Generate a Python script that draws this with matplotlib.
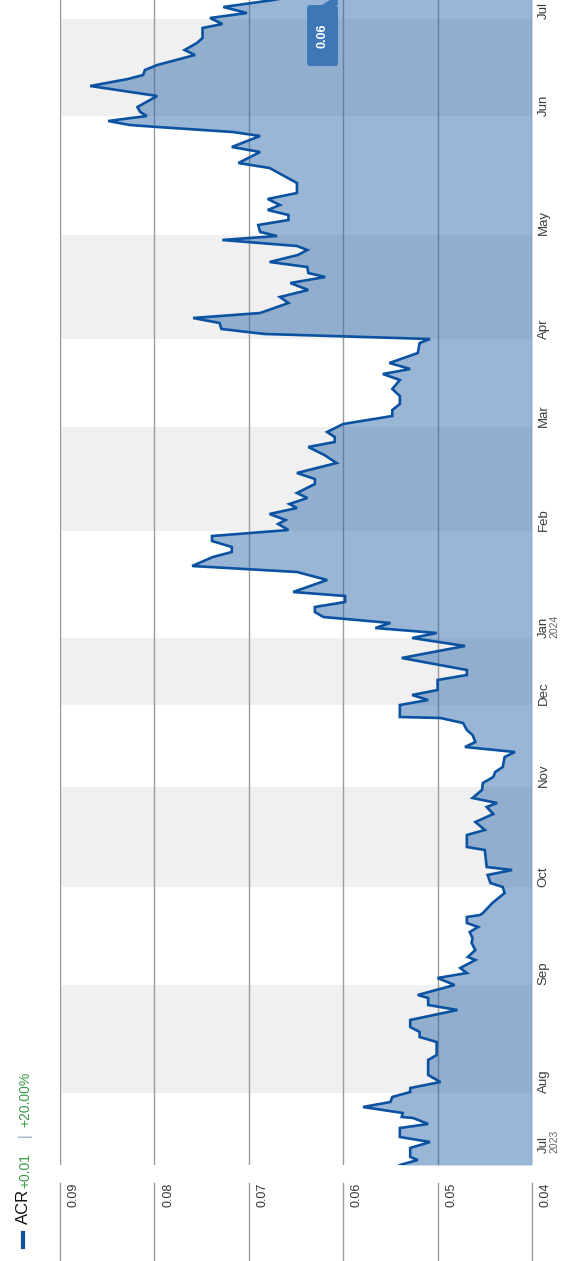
import matplotlib
matplotlib.use("Agg")
import matplotlib.pyplot as plt
from matplotlib.patches import FancyBboxPatch, Polygon
from matplotlib.lines import Line2D

plt.rcParams['font.family'] = ['Liberation Sans Narrow', 'Liberation Sans', 'DejaVu Sans']

# session index (trading-day position) and ACR price in AUD
session = [0.0, 1.0, 1.6, 3.4, 4.6, 5.6, 7.4, 8.2, 9.4, 9.6, 10.4, 11.6, 12.6, 13.6, 14.6,
           15.4, 16.6, 18.0, 21.0, 22.0, 24.6, 25.6, 26.6, 27.6, 29.0, 31.0, 32.0, 33.4, 34.0,
           36.0, 37.4, 38.4, 39.4, 41.0, 41.6, 43.0, 44.4, 45.4, 46.6, 47.6, 48.4, 49.6, 50.0,
           50.4, 52.4, 54.4, 55.6, 56.4, 58.0, 59.0, 59.6, 63.0, 63.6, 66.0, 67.0, 68.6, 70.2,
           71.6, 72.4, 73.4, 75.0, 76.4, 77.6, 78.6, 79.6, 81.6, 82.6, 83.6, 84.6, 86.0, 87.0,
           88.4, 89.4, 89.6, 92.0, 93.0, 94.0, 95.0, 97.0, 98.0, 99.0, 101.4, 103.8, 105.4,
           106.4, 107.4, 108.4, 109.6, 110.6, 111.6, 112.6, 113.8, 114.6, 117.0, 118.6, 119.8,
           121.6, 122.6, 123.6, 124.8, 125.8, 127.0, 128.2, 129.0, 130.2, 131.4, 132.2, 133.4,
           134.4, 136.2, 137.2, 138.4, 140.4, 142.0, 143.6, 144.6, 145.6, 146.6, 148.2, 149.8,
           151.0, 152.2, 153.8, 155.2, 157.0, 158.2, 159.2, 160.4, 162.4, 164.4, 165.2, 166.2,
           167.2, 168.4, 169.4, 170.4, 172.4, 173.6, 175.0, 176.4, 177.6, 178.4, 179.6, 180.6,
           182.0, 183.0, 183.8, 185.0, 185.8, 186.6, 188.0, 189.0, 190.0, 191.0, 192.0, 193.2,
           194.4, 196.4, 199.4, 200.4, 202.6, 203.6, 205.8, 206.6, 207.6, 208.0, 208.8, 209.8,
           210.6, 211.6, 213.8, 215.8, 217.2, 218.0, 219.0, 220.0, 222.0, 223.0, 224.4, 225.4,
           227.4, 228.2, 229.4, 230.4, 231.6, 233.0, 235.0, 237.0]
price = [0.0540, 0.0521, 0.0529, 0.0529, 0.0508, 0.0540, 0.0540, 0.0510, 0.0526, 0.0538, 0.0537,
         0.0579, 0.0550, 0.0548, 0.0529, 0.0529, 0.0497, 0.0510, 0.0510, 0.0501, 0.0501, 0.0519,
         0.0519, 0.0529, 0.0529, 0.0479, 0.0510, 0.0510, 0.0521, 0.0482, 0.0500, 0.0469, 0.0476,
         0.0460, 0.0468, 0.0460, 0.0464, 0.0463, 0.0466, 0.0457, 0.0469, 0.0469, 0.0455, 0.0452,
         0.0442, 0.0429, 0.0431, 0.0444, 0.0447, 0.0421, 0.0448, 0.0450, 0.0469, 0.0469, 0.0450,
         0.0460, 0.0441, 0.0448, 0.0437, 0.0463, 0.0453, 0.0452, 0.0441, 0.0439, 0.0431, 0.0429,
         0.0418, 0.0471, 0.0460, 0.0463, 0.0469, 0.0473, 0.0497, 0.0540, 0.0540, 0.0510, 0.0527,
         0.0500, 0.0500, 0.0469, 0.0469, 0.0538, 0.0471, 0.0527, 0.0501, 0.0566, 0.0550, 0.0621,
         0.0630, 0.0630, 0.0598, 0.0598, 0.0653, 0.0617, 0.0649, 0.0760, 0.0738, 0.0718, 0.0718,
         0.0739, 0.0739, 0.0658, 0.0669, 0.0661, 0.0678, 0.0649, 0.0657, 0.0638, 0.0649, 0.0630,
         0.0630, 0.0649, 0.0607, 0.0620, 0.0637, 0.0609, 0.0609, 0.0617, 0.0600, 0.0548, 0.0548,
         0.0540, 0.0540, 0.0548, 0.0540, 0.0558, 0.0529, 0.0551, 0.0521, 0.0519, 0.0508, 0.0683,
         0.0729, 0.0731, 0.0759, 0.0688, 0.0658, 0.0667, 0.0637, 0.0656, 0.0619, 0.0637, 0.0638,
         0.0678, 0.0648, 0.0638, 0.0649, 0.0728, 0.0670, 0.0688, 0.0690, 0.0658, 0.0658, 0.0680,
         0.0667, 0.0680, 0.0649, 0.0649, 0.0678, 0.0711, 0.0688, 0.0718, 0.0688, 0.0717, 0.0797,
         0.0826, 0.0849, 0.0808, 0.0815, 0.0818, 0.0797, 0.0868, 0.0828, 0.0812, 0.0810, 0.0797,
         0.0757, 0.0768, 0.0755, 0.0749, 0.0749, 0.0728, 0.0741, 0.0702, 0.0727, 0.0674, 0.0620,
         0.0600]

# month starts (session index) and labels
month_pos = [2.4, 14.4, 36.0, 55.6, 75.6, 92.0, 105.4, 126.8, 147.6, 165.2, 186.0, 209.8, 229.2]
month_lbl = ['Jul', 'Aug', 'Sep', 'Oct', 'Nov', 'Dec', 'Jan', 'Feb', 'Mar', 'Apr', 'May', 'Jun', 'Jul']
year_lbl = {0: '2023', 6: '2024'}
shaded = [1, 3, 5, 7, 9, 11]  # Aug, Oct, Dec, Feb, Apr, Jun

value_ticks = [0.09, 0.08, 0.07, 0.06, 0.05, 0.04]
last_price = '0.06'

W, H = 569, 1261
fig = plt.figure(figsize=(W / 100, H / 100), dpi=100)
ax = fig.add_axes([60 / W, 96 / H, 472 / W, 1165 / H])
ax.set_xlim(0.09, 0.04)
ax.set_ylim(0, 233.0)
for s in ax.spines.values():
    s.set_visible(False)
ax.set_xticks([])
ax.set_yticks([])

# alternating month bands
for i in shaded:
    ax.axhspan(month_pos[i], month_pos[i + 1], color='#f0f0f0', lw=0, zorder=0)

# value grid + tick stubs below the plot
for v in value_ticks:
    ax.axvline(v, color='#9c9c9c', lw=1, zorder=1)
    ax.plot([v, v], [-18 / 1165, -100 / 1165], color='#9c9c9c', lw=1,
            transform=ax.get_xaxis_transform(), clip_on=False)
    ax.annotate('%.2f' % v, xy=(v, -18 / 1165), xycoords=('data', 'axes fraction'),
                xytext=(5.5, 0), textcoords='offset points', rotation=90,
                ha='left', va='top', fontsize=9, color='#333333')

ax.fill_betweenx(session, price, 0.04, color='#1f5fa8', alpha=0.45, lw=0, zorder=2)
ax.plot(price, session, color='#0b52a0', lw=1.9, zorder=3, solid_joinstyle='miter')

# month labels on the right
for i, (p, m) in enumerate(zip(month_pos, month_lbl)):
    ax.annotate(m, xy=(0.04, p), xycoords='data', xytext=(4, 0), textcoords='offset points',
                rotation=90, ha='left', va='bottom', fontsize=9.5, color='#3a3a3a',
                annotation_clip=False)
    if i in year_lbl:
        ax.annotate(year_lbl[i], xy=(0.04, p), xycoords='data', xytext=(12.5, 0),
                    textcoords='offset points', rotation=90, ha='left', va='bottom',
                    fontsize=7.5, color='#666666', annotation_clip=False)

# last price flag
fx = lambda px: px / W
fy = lambda py: 1 - py / H
flag = FancyBboxPatch((fx(307), fy(66)), fx(338) - fx(307), fy(5) - fy(66),
                      boxstyle='round,pad=0,rounding_size=0.004', transform=fig.transFigure,
                      fc='#3d77b5', ec='none', zorder=5)
fig.patches.append(flag)
fig.patches.append(Polygon([(fx(322), fy(5)), (fx(330), fy(0)), (fx(338), fy(0)), (fx(338), fy(5))],
                           closed=True, transform=fig.transFigure, fc='#3d77b5', ec='none', zorder=5))
fig.text(fx(322.5), fy(36), last_price, rotation=90, ha='center', va='center',
         fontsize=9, color='white', fontweight='bold', zorder=6)

# legend strip on the left
fig.lines.append(Line2D([fx(23), fx(23)], [fy(1247), fy(1233)], transform=fig.transFigure,
                        color='#0b52a0', lw=3))
fig.text(fx(23), fy(1224), 'ACR', rotation=90, ha='center', va='bottom', fontsize=12, color='#111111')
fig.text(fx(25), fy(1188), '+0.01', rotation=90, ha='center', va='bottom', fontsize=10, color='#3a9a47')
fig.text(fx(25), fy(1135), '|', rotation=90, ha='center', va='center', fontsize=10, color='#8aa0c0')
fig.text(fx(25), fy(1127), '+20.00%', rotation=90, ha='center', va='bottom', fontsize=10, color='#3a9a47')

fig.savefig('out.png', dpi=100)
